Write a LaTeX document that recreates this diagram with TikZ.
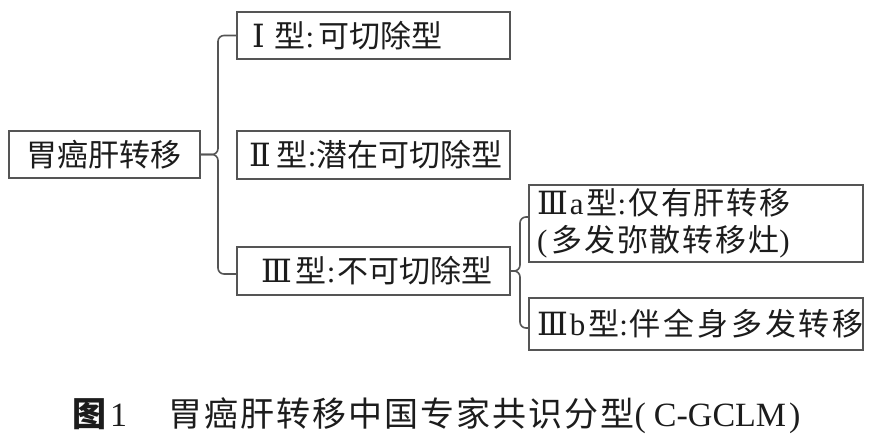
\documentclass[tikz,border=0pt]{standalone}
\usepackage{fontspec}
\setmainfont{Liberation Serif}
\newfontfamily\cjk{Noto Sans CJK SC}
\newfontfamily\numfont{DejaVu Serif}
\newcommand{\rn}[1]{{\numfont\fontsize{32}{37}\selectfont #1}}
\definecolor{linegray}{RGB}{85,85,85}
\definecolor{ink}{RGB}{28,28,28}
\begin{document}
\begin{tikzpicture}[x=1pt,y=-1pt,
  box/.style={draw=linegray, line width=1.8pt, inner sep=0pt, text=ink,
    font=\cjk\fontsize{31}{37}\selectfont},
  conn/.style={draw=linegray, line width=1.6pt, rounded corners=6pt}]
\useasboundingbox (0,0) rectangle (876,442);
\fill[white] (0,0) rectangle (876,442);
% boxes
\node[box, minimum width=191pt, minimum height=47pt] (root) at (104.5,154.5) {胃癌肝转移};
\node[box, minimum width=273pt, minimum height=47pt] (b1) at (373.5,35.5)
  {\makebox[273pt][l]{\hspace{15pt}\rn{Ⅰ}\hspace{10pt}型{\rmfamily :}\hspace{4pt}可切除型}};
\node[box, minimum width=273pt, minimum height=48pt] (b2) at (373.5,155)
  {\makebox[273pt][l]{\hspace{12pt}\rn{Ⅱ}\hspace{6pt}型{\rmfamily :}潜在可切除型}};
\node[box, minimum width=273pt, minimum height=48pt] (b3) at (373.5,271)
  {\makebox[273pt][l]{\hspace{24pt}\rn{Ⅲ}\hspace{4pt}型{\rmfamily :}\hspace{2pt}不可切除型}};
\node[box, minimum width=334pt, minimum height=77pt] (b3a) at (696,223.5)
  {\makebox[334pt][l]{\hspace{8pt}\parbox{320pt}{\addfontfeature{LetterSpace=6}\rn{Ⅲ}\hspace{2pt}{\rmfamily a}\hspace{3pt}型{\rmfamily :}\hspace{2pt}仅有肝转移\\{\rmfamily (}\hspace{4pt}多发弥散转移灶{\rmfamily )}}}};
\node[box, minimum width=334pt, minimum height=52pt] (b3b) at (696,324)
  {\makebox[334pt][l]{\hspace{8pt}\rn{Ⅲ}\hspace{2pt}{\rmfamily b}\hspace{3pt}型{\rmfamily :}\hspace{2pt}{\addfontfeature{LetterSpace=9}伴全身多发转移}}};
% junctions
\coordinate (j1) at (218,154.5);
\coordinate (j2) at (520,271);
% connectors
\draw[conn] (b1.west) -| (j1) -- (root.east);
\draw[conn] ([yshift=-3pt]b3.west) -| (j1) -- (root.east);
\draw[conn] ([yshift=6.5pt]b3a.west) -| (j2) -- (b3.east);
\draw[conn] ([yshift=-4pt]b3b.west) -| (j2) -- (b3.east);
% caption
\node[anchor=west, text=ink, inner sep=0pt, font=\fontsize{34}{40}\selectfont] (cap) at (72,416)
  {{\cjk\bfseries 图}\hspace{4pt}1\hspace{41pt}{\cjk\addfontfeature{LetterSpace=6}胃癌肝转移中国专家共识分型}(\hspace{8pt}C-GCLM\hspace{3pt})};
\end{tikzpicture}
\end{document}
